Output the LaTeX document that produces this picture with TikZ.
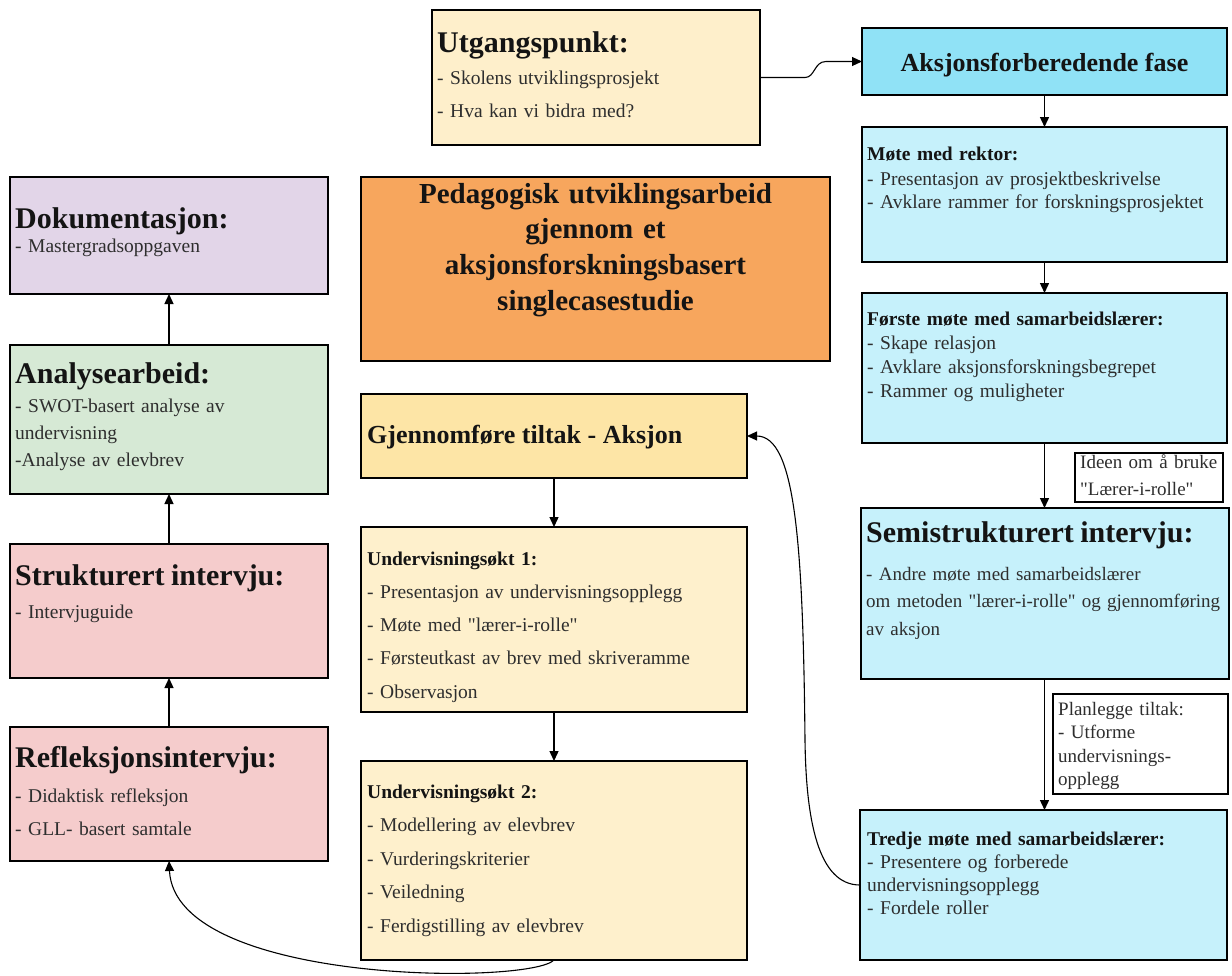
\documentclass[tikz,border=0pt]{standalone}
\usepackage{fontspec}
\setmainfont{Liberation Serif}[Ligatures=TeXOff]
\usetikzlibrary{arrows.meta}
\definecolor{utgfill}{HTML}{FEEFCB}
\definecolor{aksfill}{HTML}{90E2F6}
\definecolor{bluefill}{HTML}{C6F1FB}
\definecolor{dokfill}{HTML}{E2D5E8}
\definecolor{analfill}{HTML}{D6E9D5}
\definecolor{pinkfill}{HTML}{F5CCCC}
\definecolor{orangefill}{HTML}{F7A65D}
\definecolor{gjfill}{HTML}{FDE5A6}
\definecolor{ufill}{HTML}{FEF0CC}
\definecolor{headcol}{HTML}{141414}
\definecolor{bodycol}{HTML}{2E2E2E}
\newcommand{\bighead}[1]{{\fontsize{30}{33}\selectfont\bfseries\color{headcol}#1}}
\newcommand{\smallhead}[1]{{\bfseries\color{headcol}#1}}
\newcommand{\qq}{\char34\relax}
\begin{document}
\begin{tikzpicture}[x=1pt,y=-1pt,
  box/.style={draw=black, line width=2.6pt, rectangle, inner sep=0pt, outer sep=0pt, anchor=north west},
  lbl/.style={draw=black, line width=1.1pt, rectangle, inner sep=0pt, outer sep=0pt, anchor=north west, fill=white},
  txt/.style={anchor=base west, inner sep=0pt, align=left, text width=#1, text=bodycol},
  arr/.style={line width=1.4pt, -{Triangle[length=10pt,width=9pt]}},
  thinarr/.style={line width=1.1pt, -{Triangle[length=10pt,width=9pt]}}]
\useasboundingbox (0,0) rectangle (1232,975);
\fill[white] (0,0) rectangle (1232,975);

% boxes
\node[box, fill=utgfill, minimum width=328, minimum height=135] (utg) at (432,10) {};
\node[box, fill=aksfill, minimum width=365, minimum height=67] (aks) at (862,28) {};
\node[box, fill=bluefill, minimum width=365, minimum height=135] (mote) at (862,127) {};
\node[box, fill=bluefill, minimum width=365, minimum height=150] (forste) at (862,293) {};
\node[box, fill=bluefill, minimum width=368, minimum height=171] (semi) at (861,508) {};
\node[box, fill=bluefill, minimum width=367, minimum height=150] (tredje) at (860,810) {};
\node[lbl, minimum width=148, minimum height=49] (ideen) at (1075,453) {};
\node[lbl, minimum width=175, minimum height=100] (plan) at (1053,694) {};
\node[box, fill=dokfill, minimum width=318, minimum height=117] (dok) at (10,177) {};
\node[box, fill=analfill, minimum width=318, minimum height=149] (anal) at (10,345) {};
\node[box, fill=pinkfill, minimum width=318, minimum height=134] (strukt) at (10,544) {};
\node[box, fill=pinkfill, minimum width=318, minimum height=134] (refl) at (10,727) {};
\node[box, fill=orangefill, minimum width=469, minimum height=184] (orange) at (361,177) {};
\node[box, fill=gjfill, minimum width=386, minimum height=84] (gj) at (361,394) {};
\node[box, fill=ufill, minimum width=386, minimum height=185] (u1) at (361,527) {};
\node[box, fill=ufill, minimum width=386, minimum height=199] (u2) at (361,761) {};

% texts
\node[txt=320, font=\fontsize{19.5}{33}\selectfont] (utgT) at (437,52)
  {\bighead{Utgangspunkt:}\\[-1pt]- Skolens utviklingsprosjekt\\- Hva kan vi bidra med?};
\node[anchor=base, inner sep=0pt, text=headcol, font=\fontsize{26}{30}\selectfont\bfseries] (aksT) at (1044.5,71) {Aksjonsforberedende fase};
\node[txt=360, font=\fontsize{19.5}{23.5}\selectfont] (moteT) at (867,160)
  {\smallhead{Møte med rektor:}\\[1.5pt]- Presentasjon av prosjektbeskrivelse\\- Avklare rammer for forskningsprosjektet};
\node[txt=360, font=\fontsize{19.5}{24}\selectfont] (forsteT) at (867,325)
  {\smallhead{Første møte med samarbeidslærer:}\\- Skape relasjon\\- Avklare aksjonsforskningsbegrepet\\- Rammer og muligheter};
\node[txt=150, font=\fontsize{19}{27}\selectfont] (ideenT) at (1080,468)
  {Ideen om å bruke\\\qq Lærer-i-rolle\qq};
\node[txt=380, font=\fontsize{19}{27.5}\selectfont] (semiT) at (866,542)
  {\bighead{Semistrukturert intervju:}\\[10.5pt]- Andre møte med samarbeidslærer\\om metoden \qq lærer-i-rolle\qq{} og gjennomføring\\av aksjon};
\node[txt=175, font=\fontsize{19}{23.5}\selectfont] (planT) at (1058,715)
  {Planlegge tiltak:\\- Utforme\\undervisnings-\\opplegg};
\node[txt=360, font=\fontsize{19.5}{23.3}\selectfont] (tredjeT) at (867,845)
  {\smallhead{Tredje møte med samarbeidslærer:}\\- Presentere og forberede\\undervisningsopplegg\\- Fordele roller};
\node[txt=310, font=\fontsize{19.5}{24}\selectfont] (dokT) at (15,228)
  {\bighead{Dokumentasjon:}\\- Mastergradsoppgaven};
\node[txt=310, font=\fontsize{19.5}{27}\selectfont] (analT) at (15,383)
  {\bighead{Analysearbeid:}\\[2pt]- SWOT-basert analyse av\\undervisning\\-Analyse av elevbrev};
\node[txt=310, font=\fontsize{19.5}{33}\selectfont] (struktT) at (15,585)
  {\bighead{Strukturert intervju:}\\- Intervjuguide};
\node[txt=310, font=\fontsize{19.5}{33}\selectfont] (reflT) at (15,767)
  {\bighead{Refleksjonsintervju:}\\[2pt]- Didaktisk refleksjon\\- GLL- basert samtale};
\node[anchor=base, inner sep=0pt, text width=460, align=center, text=headcol, font=\fontsize{29}{35.7}\selectfont\bfseries] (orangeT) at (595.5,203)
  {Pedagogisk utviklingsarbeid\\gjennom et\\aksjonsforskningsbasert\\singlecasestudie};
\node[anchor=base west, inner sep=0pt, text=headcol, font=\fontsize{26}{30}\selectfont\bfseries] (gjT) at (367,443) {Gjennomføre tiltak - Aksjon};
\node[txt=380, font=\fontsize{19.5}{33.3}\selectfont] (u1T) at (367,565)
  {\smallhead{Undervisningsøkt 1:}\\- Presentasjon av undervisningsopplegg\\- Møte med \qq lærer-i-rolle\qq\\- Førsteutkast av brev med skriveramme\\- Observasjon};
\node[txt=380, font=\fontsize{19.5}{33.5}\selectfont] (u2T) at (367,798)
  {\smallhead{Undervisningsøkt 2:}\\- Modellering av elevbrev\\- Vurderingskriterier\\- Veiledning\\- Ferdigstilling av elevbrev};

% connectors
\coordinate (w1) at (805,77.5);
\coordinate (w2) at (826,61.5);
\draw[thinarr] (utg.east) -- (w1) .. controls (815,77.5) and (814,61.5) .. (w2) -- (aks.west);
\draw[arr] (aks.south) -- (aks.south |- mote.north);
\draw[arr] (mote.south) -- (mote.south |- forste.north);
\draw[arr] (forste.south) -- (forste.south |- semi.north);
\draw[arr] (forste.south |- semi.south) -- (forste.south |- tredje.north);
\draw[arr] (anal.north) -- (dok.south);
\draw[arr] (strukt.north) -- (anal.south);
\draw[arr] (refl.north) -- (strukt.south);
\draw[arr] (gj.south) -- (gj.south |- u1.north);
\draw[arr] (u1.south) -- (u1.south |- u2.north);
\draw[thinarr] (u2.south) .. controls (530,985) and (175,985) .. (refl.south);
\coordinate (c1) at (805,740);
\draw[thinarr] (tredje.west) .. controls (818,885) and (806,820) .. (c1) .. controls (803,540) and (795,436) .. (gj.east);
\end{tikzpicture}
\end{document}
